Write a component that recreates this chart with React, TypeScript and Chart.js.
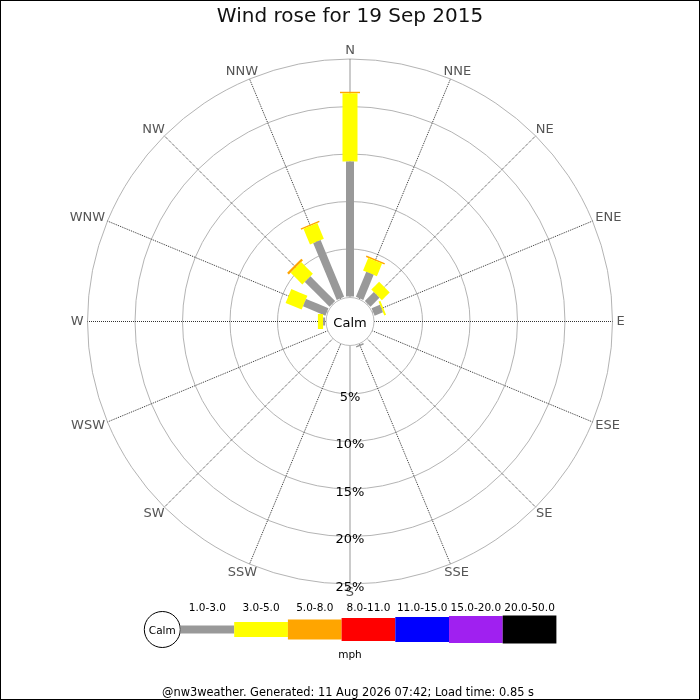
import React, { useEffect, useRef } from "react";
import { Chart, registerables } from "chart.js";

Chart.register(...registerables);

// ---------- data ----------
const directions = ["N", "NNE", "NE", "ENE", "E", "ESE", "SE", "SSE", "S", "SSW", "SW", "WSW", "W", "WNW", "NW", "NNW"];
const speedBins = ["1.0-3.0", "3.0-5.0", "5.0-8.0", "8.0-11.0", "11.0-15.0", "15.0-20.0", "20.0-50.0"];
const binColors = ["#999999", "#ffff00", "#ffa500", "#ff0000", "#0000ff", "#a020f0", "#000000"];
// percentage of time per direction, one array per speed bin (mph)
const bin1to3 = [14.2, 2.86, 1.33, 0.95, 0, 0, 0, 0.15, 0, 0, 0, 0, 0.2, 2.55, 3.68, 6.47];
const bin3to5 = [7.2, 1.43, 1.16, 0.2, 0, 0, 0, 0, 0, 0, 0, 0, 0.55, 1.83, 1.74, 1.79];
const bin5to8 = [0.15, 0.16, 0, 0, 0, 0, 0, 0, 0, 0, 0, 0, 0, 0, 0.25, 0.15];
const bin8to11 = [0, 0, 0, 0, 0, 0, 0, 0, 0, 0, 0, 0, 0, 0, 0, 0];
const bin11to15 = [0, 0, 0, 0, 0, 0, 0, 0, 0, 0, 0, 0, 0, 0, 0, 0];
const bin15to20 = [0, 0, 0, 0, 0, 0, 0, 0, 0, 0, 0, 0, 0, 0, 0, 0];
const bin20to50 = [0, 0, 0, 0, 0, 0, 0, 0, 0, 0, 0, 0, 0, 0, 0, 0];
const binValues = [bin1to3, bin3to5, bin5to8, bin8to11, bin11to15, bin15to20, bin20to50];
const ringTicks = [5, 10, 15, 20, 25];
const tickLabels = ["5%", "10%", "15%", "20%", "25%"];
const titleText = "Wind rose for 19 Sep 2015";
const calmLabel = "Calm";
const unitLabel = "mph";
const footerText = "@nw3weather. Generated: 11 Aug 2026 07:42; Load time: 0.85 s";

// ---------- layout / style ----------
const W = 700;
const H = 700;
const PX_PER_PCT = 9.5;
const CALM_PX = 25;
const CALM_OFF = CALM_PX / PX_PER_PCT; // calm circle offset, in percent units
const TITLE_H = 29;
const CENTER_Y = 321.5;
const BOTTOM_PAD = H - (2 * CENTER_Y - TITLE_H);
const binWidths = [8, 15, 20, 23, 25, 27, 28];
const FONT = "'DejaVu Sans', 'Liberation Sans', sans-serif";

function buildDatasets() {
  const ds: any[] = [];
  const step = (2 * Math.PI) / directions.length;
  directions.forEach((_, d) => {
    let cum = CALM_OFF;
    binValues.forEach((vals, b) => {
      const v = vals[d];
      if (v > 0) {
        const a = d * step;
        const r0 = cum;
        const r1 = cum + v;
        ds.push({
          label: directions[d] + " " + speedBins[b],
          data: [
            { x: r0 * Math.sin(a), y: r0 * Math.cos(a) },
            { x: r1 * Math.sin(a), y: r1 * Math.cos(a) },
          ],
          showLine: true,
          borderColor: binColors[b],
          backgroundColor: binColors[b],
          borderWidth: binWidths[b],
          borderCapStyle: "butt",
          pointRadius: 0,
          pointHoverRadius: 0,
          fill: false,
          tension: 0.01,
          clip: false,
        });
        cum = r1;
      }
    });
  });
  return ds;
}

const rosePlugin = {
  id: "roseDecor",
  beforeDraw(chart: any) {
    const ctx = chart.ctx;
    ctx.save();
    ctx.fillStyle = "#ffffff";
    ctx.fillRect(0, 0, chart.width, chart.height);
    ctx.restore();
  },
  beforeDatasetsDraw(chart: any) {
    const ctx = chart.ctx;
    const xs = chart.scales.x;
    const ys = chart.scales.y;
    const cx = xs.getPixelForValue(0);
    const cy = ys.getPixelForValue(0);
    const unit = xs.getPixelForValue(1) - cx;
    const outer = (CALM_OFF + ringTicks[ringTicks.length - 1]) * unit;
    ctx.save();
    // rings
    ctx.strokeStyle = "#b4b4b4";
    ctx.lineWidth = 1;
    ringTicks.forEach((t) => {
      ctx.beginPath();
      ctx.arc(cx, cy, (CALM_OFF + t) * unit, 0, Math.PI * 2);
      ctx.stroke();
    });
    // spokes
    const step = (2 * Math.PI) / directions.length;
    ctx.strokeStyle = "#333333";
    ctx.setLineDash([1, 1]);
    directions.forEach((_, d) => {
      const a = d * step;
      const sx = Math.sin(a);
      const sy = -Math.cos(a);
      ctx.beginPath();
      ctx.moveTo(cx + sx * (CALM_PX - 1), cy + sy * (CALM_PX - 1));
      ctx.lineTo(cx + sx * outer, cy + sy * outer);
      ctx.stroke();
    });
    ctx.setLineDash([]);
    // direction labels
    const fs = 13;
    ctx.font = `${fs}px ${FONT}`;
    ctx.fillStyle = "#555555";
    ctx.textAlign = "center";
    ctx.textBaseline = "alphabetic";
    const capH = 0.73 * fs;
    const R = outer + 4;
    directions.forEach((lab, d) => {
      const a = d * step;
      const sx = Math.sin(a);
      const sy = -Math.cos(a);
      const w = ctx.measureText(lab).width;
      const px = cx + sx * R + (sx * w) / 2;
      const py = cy + sy * R + (sy * capH) / 2;
      ctx.fillText(lab, px, py + capH / 2 - 1);
    });
    ctx.restore();
  },
  afterDatasetsDraw(chart: any) {
    const ctx = chart.ctx;
    const xs = chart.scales.x;
    const ys = chart.scales.y;
    const cx = xs.getPixelForValue(0);
    const cy = ys.getPixelForValue(0);
    const unit = xs.getPixelForValue(1) - cx;
    ctx.save();
    // calm circle
    ctx.beginPath();
    ctx.arc(cx, cy, CALM_PX - 1, 0, Math.PI * 2);
    ctx.fillStyle = "#ffffff";
    ctx.fill();
    ctx.strokeStyle = "#bbbbbb";
    ctx.lineWidth = 1;
    ctx.stroke();
    ctx.fillStyle = "#000000";
    ctx.textAlign = "center";
    ctx.textBaseline = "alphabetic";
    ctx.font = `13px ${FONT}`;
    ctx.fillText(calmLabel, cx, cy + 0.73 * 13 / 2 + 1);
    // ring tick labels, along the south spoke
    tickLabels.forEach((lab, i) => {
      const r = (CALM_OFF + ringTicks[i]) * unit;
      ctx.fillText(lab, cx, cy + r + 2 + 0.73 * 13 / 2);
    });

    // legend
    const ly = 629.5;
    const calmX = 162.3;
    ctx.beginPath();
    ctx.arc(calmX, ly, 18, 0, Math.PI * 2);
    ctx.fillStyle = "#ffffff";
    ctx.fill();
    ctx.strokeStyle = "#000000";
    ctx.stroke();
    ctx.fillStyle = "#000000";
    ctx.font = `10.5px ${FONT}`;
    ctx.fillText(calmLabel, calmX, ly + 4);
    const bx0 = 180.5;
    const bw = 53.7;
    speedBins.forEach((lab, b) => {
      const x0 = bx0 + b * bw;
      const h = binWidths[b];
      ctx.fillStyle = binColors[b];
      ctx.fillRect(x0, ly - h / 2, bw, h);
      ctx.fillStyle = "#000000";
      ctx.fillText(lab, x0 + bw / 2, 611);
    });
    ctx.fillText(unitLabel, 350, 658);
    // footer
    ctx.font = `11.4px ${FONT}`;
    ctx.fillText(footerText, 348, 696);
    // frame
    ctx.strokeStyle = "#000000";
    ctx.lineWidth = 1;
    ctx.strokeRect(0.5, 0.5, chart.width - 1, chart.height - 1);
    ctx.restore();
  },
};

export default function App() {
  const ref = useRef<HTMLCanvasElement | null>(null);
  useEffect(() => {
    document.body.style.margin = "0";
    if (!ref.current) return;
    const halfX = W / 2 / PX_PER_PCT;
    const areaH = H - TITLE_H - BOTTOM_PAD;
    const hy = areaH / 2 / PX_PER_PCT;
    const chart = new Chart(ref.current, {
      type: "scatter",
      data: { datasets: buildDatasets() },
      options: {
        responsive: false,
        animation: false,
        events: [],
        layout: { padding: { left: 0, right: 0, top: 0, bottom: BOTTOM_PAD } },
        scales: {
          x: { type: "linear", display: false, min: -halfX, max: halfX },
          y: { type: "linear", display: false, min: -hy, max: hy },
        },
        plugins: {
          legend: { display: false },
          tooltip: { enabled: false },
          title: {
            display: true,
            text: titleText,
            color: "#111111",
            font: { family: FONT, size: 20, weight: "normal" },
            padding: { top: 5, bottom: 0 },
          },
        },
      },
      plugins: [rosePlugin],
    } as any);
    return () => chart.destroy();
  }, []);
  return (
    <div style={{ width: W, height: H, position: "relative" }}>
      <canvas ref={ref} width={W} height={H} style={{ width: W, height: H, display: "block" }} />
    </div>
  );
}
